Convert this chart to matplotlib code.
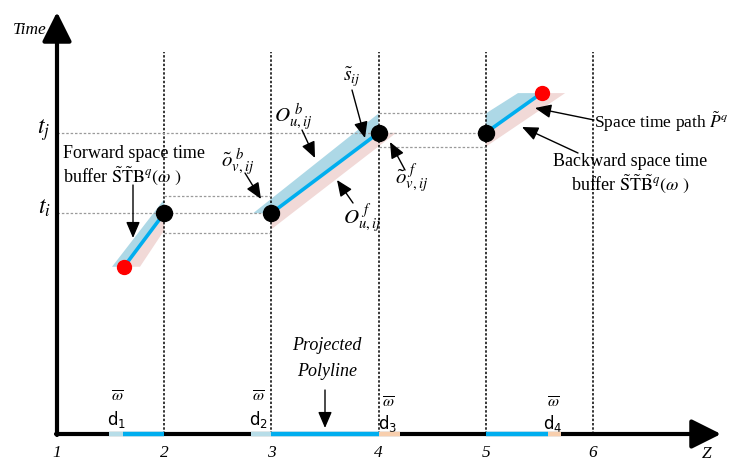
import matplotlib.pyplot as plt
from matplotlib.patches import Polygon

plt.rcParams['font.family'] = ['Liberation Serif', 'DejaVu Serif']
plt.rcParams['mathtext.fontset'] = 'stix'

# space time path, z = position along polyline, t = time
path_z = [[1.625, 2.0], [3.0, 4.0], [5.0, 5.52]]
path_t = [[1.56, 2.06], [2.06, 2.81], [2.81, 3.18]]
red_z = [1.625, 5.52]
red_t = [1.56, 3.18]
black_z = [2.0, 3.0, 4.0, 5.0]
black_t = [2.06, 2.06, 2.81, 2.81]
t_i, t_j = 2.06, 2.81

# forward (blue) and backward (pink) buffers
fwd_buf = [
    [(1.513, 1.56), (1.625, 1.56), (2.0, 2.06), (2.0, 2.19)],
    [(2.83, 2.06), (3.0, 2.06), (4.0, 2.81), (4.0, 2.99)],
    [(5.0, 2.81), (5.0, 2.99), (5.30, 3.18), (5.52, 3.18)],
]
bwd_buf = [
    [(1.625, 1.56), (1.774, 1.56), (2.0, 1.90), (2.0, 2.06)],
    [(3.0, 2.06), (3.0, 1.91), (4.165, 2.81), (4.0, 2.81)],
    [(5.0, 2.81), (5.0, 2.68), (5.74, 3.18), (5.52, 3.18)],
]

# gray guide lines: (time, z start, z end)
guides = [(t_j, 1.0, 5.0), (t_i, 1.0, 3.0), (2.22, 2.0, 3.0), (1.875, 2.0, 3.0),
          (2.994, 4.0, 5.0), (2.677, 4.0, 5.0)]

# projected polyline pieces on the z axis
proj_start = [1.485, 1.616, 2.81, 3.0, 4.0, 5.0, 5.58]
proj_end = [1.616, 2.0, 3.0, 4.0, 4.2, 5.58, 5.70]
proj_kind = ['fwd', 'path', 'fwd', 'path', 'bwd', 'path', 'bwd']

z_ticks = [1, 2, 3, 4, 5, 6]
vlines_z = [2, 3, 4, 5, 6]
vline_top = 3.56

colors = {'path': '#00AEEF', 'fwd': '#B7DDE8', 'bwd': '#F8CFAE'}

S = 107.2


def px(x, y):
    return 1 + (x - 57) / S, (434 - y) / S


fig = plt.figure(figsize=(7.31, 4.62), dpi=100)
ax = fig.add_axes([0, 0, 1, 1])
x0, y0 = px(0, 462)
x1, y1 = px(731, 0)
ax.set_xlim(x0, x1)
ax.set_ylim(y0, y1)
ax.set_axis_off()

for poly in fwd_buf:
    ax.add_patch(Polygon(poly, closed=True, fc='#ADD8E6', ec='none', zorder=1))
for poly in bwd_buf:
    ax.add_patch(Polygon(poly, closed=True, fc='#F1D9D7', ec='none', zorder=1))

for z in vlines_z:
    ax.plot([z, z], [0, vline_top], color='black', lw=1.1, ls=(0, (1.6, 1.2)), zorder=2)
for t, za, zb in guides:
    ax.plot([za, zb], [t, t], color='#9a9a9a', lw=0.9, ls=(0, (2, 1.5)), zorder=2)

for zs, ts in zip(path_z, path_t):
    ax.plot(zs, ts, color=colors['path'], lw=2.6, zorder=3, solid_capstyle='butt')
ax.plot(black_z, black_t, 'o', color='black', ms=11.5, zorder=4)
ax.plot(red_z, red_t, 'o', color='#FF0000', ms=10, zorder=4)

# axes
ax.annotate('', xy=px(721, 434), xytext=px(56, 434),
            arrowprops=dict(arrowstyle='-|>,head_length=0.9,head_width=0.45',
                            lw=3, color='black', mutation_scale=20, shrinkA=0, shrinkB=0), zorder=3)
ax.annotate('', xy=px(57, 12), xytext=px(57, 435),
            arrowprops=dict(arrowstyle='-|>,head_length=0.9,head_width=0.45',
                            lw=3, color='black', mutation_scale=20, shrinkA=0, shrinkB=0), zorder=3)
for za, zb, k in zip(proj_start, proj_end, proj_kind):
    ax.plot([za, zb], [0, 0], color=colors[k], lw=3.2, zorder=4, solid_capstyle='butt')

# tick labels
for z in z_ticks:
    ax.text(z, px(0, 453)[1], str(z), ha='center', va='center', fontsize=12.5, style='italic')
ax.text(*px(707, 454), 'Z', ha='center', va='center', fontsize=12.5, style='italic')
ax.text(*px(30, 30), 'Time', ha='center', va='center', fontsize=12.5, style='italic')
ax.text(*px(44, 130), r'$t_j$', ha='center', va='center', fontsize=17)
ax.text(*px(44, 208), r'$t_i$', ha='center', va='center', fontsize=17)

# omega / d labels
for xx, yo, yd, lab in [(117, 398, 419, '1'), (258, 398, 419, '2'),
                        (388, 404, 424, '3'), (553, 404, 424, '4')]:
    ax.text(*px(xx, yo), r'$\overline{\omega}$', ha='center', va='center', fontsize=11.5)
    ax.text(*px(xx, yd), r'$\mathrm{d}_{' + lab + '}$', ha='center', va='center', fontsize=12,
            math_fontfamily='dejavusans')

ax.text(*px(327, 346), 'Projected', ha='center', va='center', fontsize=13, style='italic')
ax.text(*px(327, 372), 'Polyline', ha='center', va='center', fontsize=13, style='italic')

ax.text(*px(63, 153), 'Forward space time', ha='left', va='center', fontsize=13)
ax.text(*px(63, 176), r'buffer $\tilde{\mathrm{S}}\tilde{\mathrm{T}}\mathrm{B}^{q}(\omega\ )$',
        ha='left', va='center', fontsize=13)
ax.text(*px(630, 162), 'Backward space time', ha='center', va='center', fontsize=13)
ax.text(*px(630, 184), r'buffer $\tilde{\mathrm{S}}\tilde{\mathrm{T}}\tilde{\mathrm{B}}^{q}(\omega\ )$',
        ha='center', va='center', fontsize=13)
ax.text(*px(594, 122), r'Space time path $\tilde{P}^{q}$', ha='left', va='center', fontsize=12.5)

ax.text(*px(238, 162), r'$\tilde{o}^{\ b}_{v,ij}$', ha='center', va='center', fontsize=15)
ax.text(*px(293, 117), r'$O^{\ b}_{u,ij}$', ha='center', va='center', fontsize=15)
ax.text(*px(362, 218), r'$O^{\ f}_{u,ij}$', ha='center', va='center', fontsize=15)
ax.text(*px(412, 178), r'$\tilde{o}^{\ f}_{v,ij}$', ha='center', va='center', fontsize=15)
ax.text(*px(352, 77), r'$\tilde{s}_{ij}$', ha='center', va='center', fontsize=14)

arrows = [((133, 185), (133, 238)), ((245, 173), (261, 199)), ((302, 130), (315, 158)),
          ((353, 203), (337, 180)), ((405, 170), (390, 142)), ((352, 90), (365, 138)),
          ((325, 390), (325, 428)), ((594, 120), (535, 108)), ((578, 153), (522, 127))]
for a, b in arrows:
    ax.annotate('', xy=px(*b), xytext=px(*a),
                arrowprops=dict(arrowstyle='-|>,head_length=0.7,head_width=0.3', lw=1,
                                color='black', mutation_scale=14, shrinkA=0, shrinkB=0), zorder=5)

fig.savefig('out.png', dpi=100)
